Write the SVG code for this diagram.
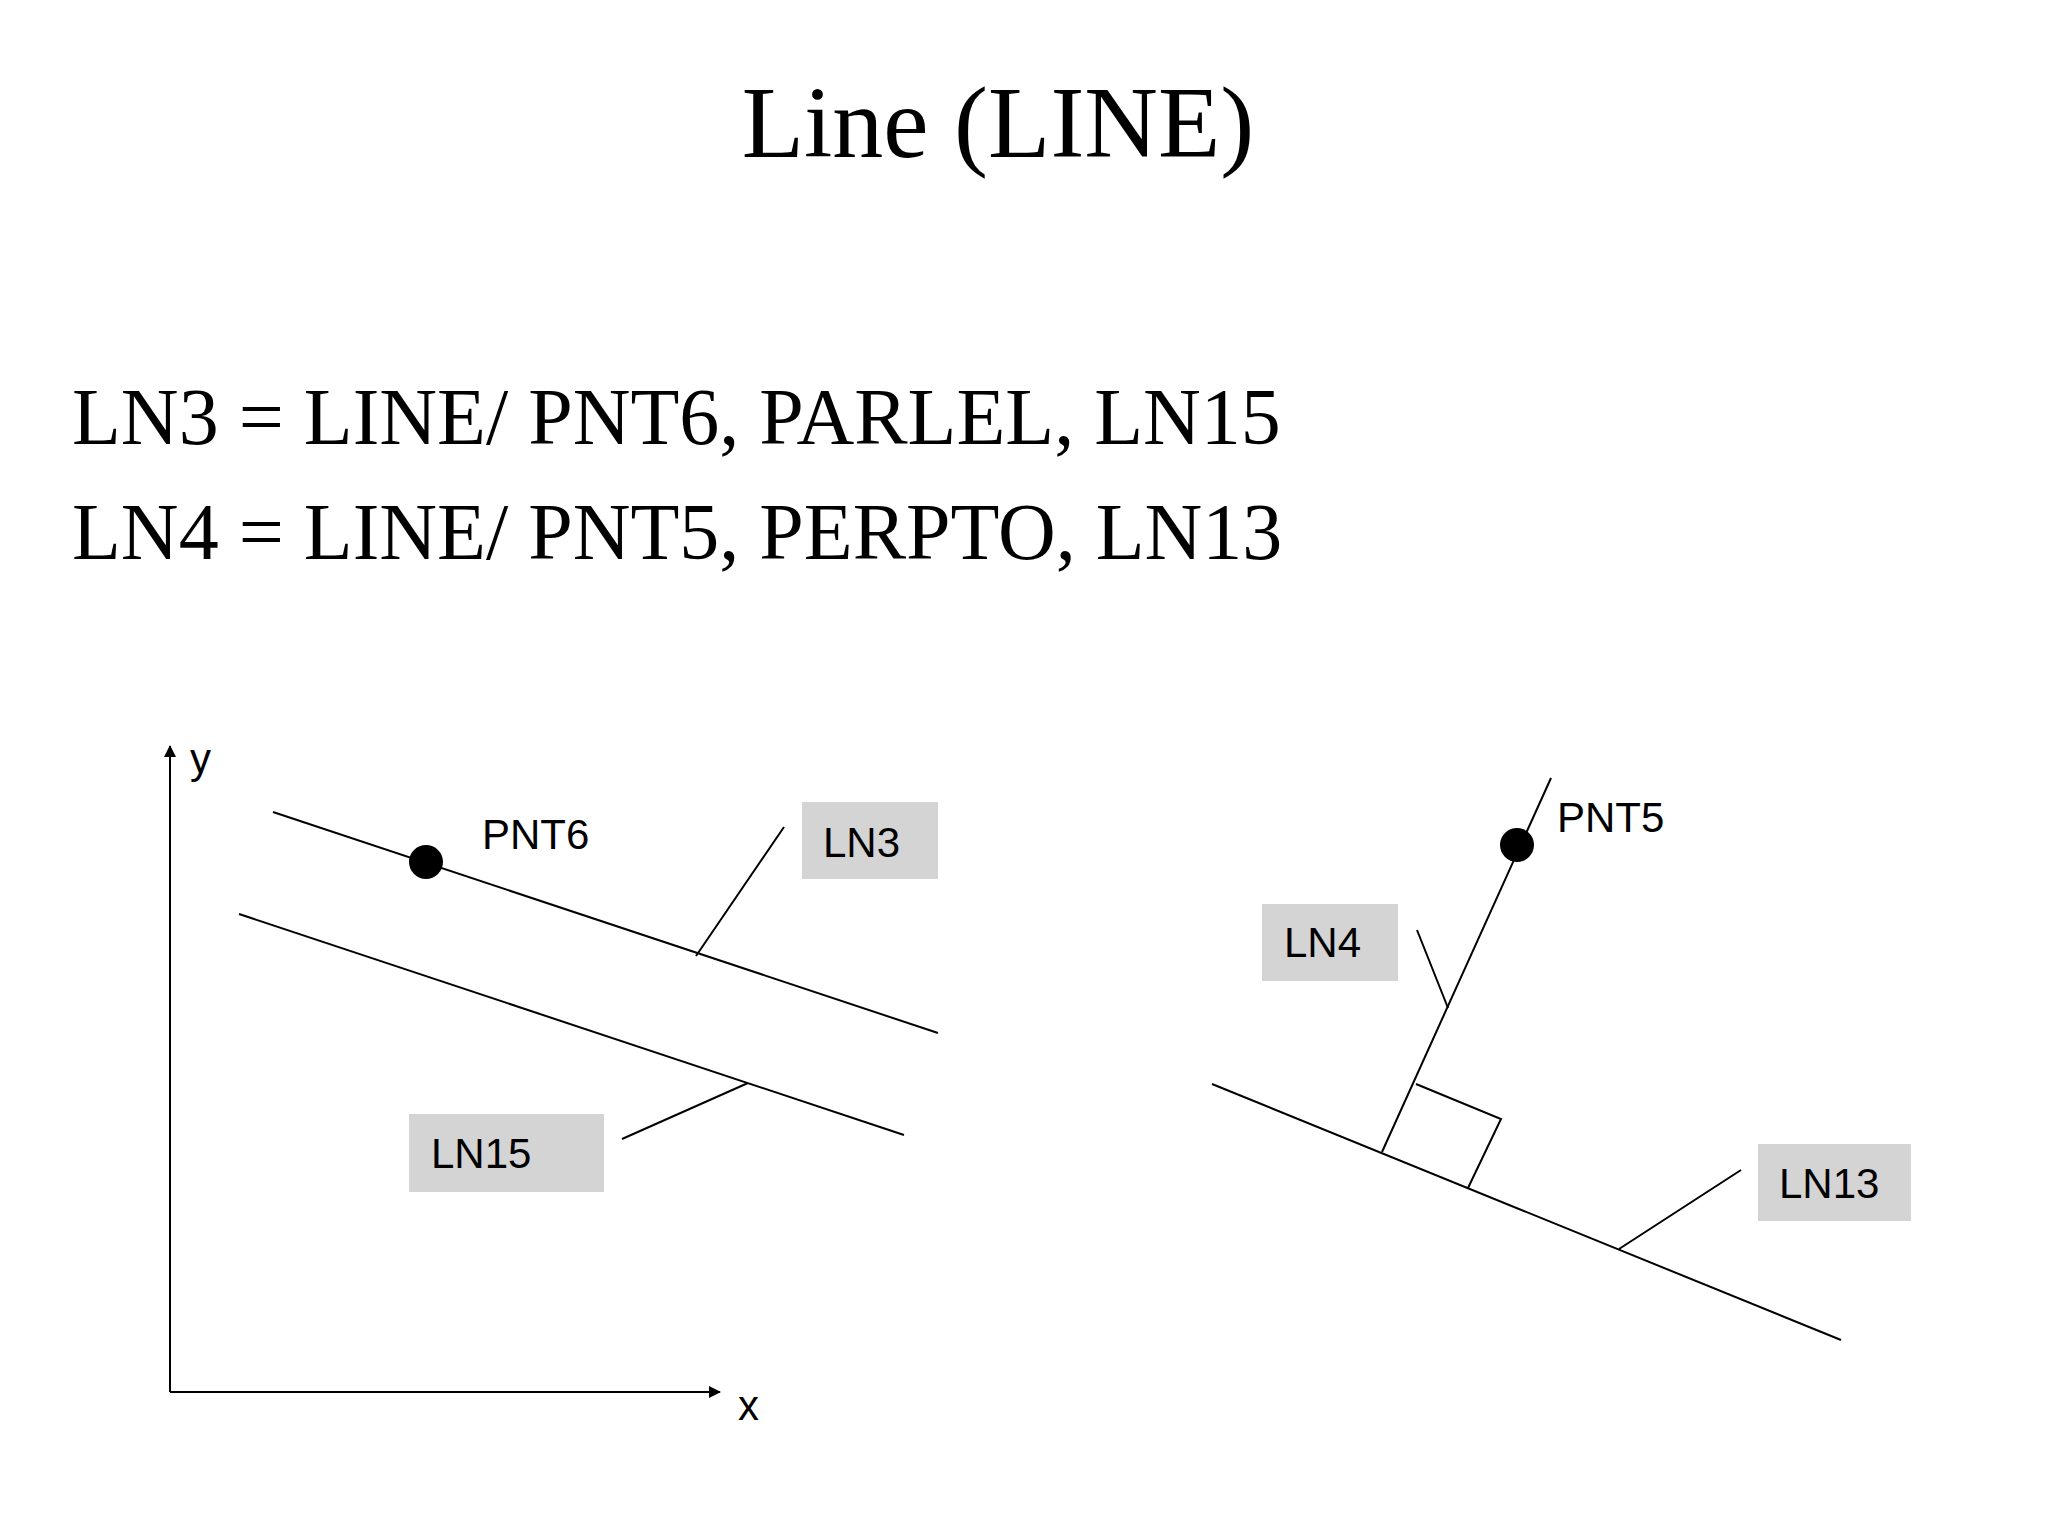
<svg xmlns="http://www.w3.org/2000/svg" width="2048" height="1536" viewBox="0 0 2048 1536">
<style>
.t{font-family:"Liberation Serif",serif;fill:#000}
.s{font-family:"Liberation Sans",Arial,sans-serif;font-size:42px;fill:#000}
.ln{stroke:#000;stroke-width:2;fill:none}
.box{fill:#d4d4d4}
</style>
<defs><marker id="ah" markerWidth="12" markerHeight="12" refX="11" refY="6" orient="auto" markerUnits="userSpaceOnUse"><path d="M0,0 L12,6 L0,12 z" fill="#000"/></marker></defs>
<rect width="2048" height="1536" fill="#fff"/>
<text class="t" x="998" y="157" font-size="102" text-anchor="middle">Line (LINE)</text>
<text class="t" x="72" y="444" font-size="80">LN3 = LINE/ PNT6, PARLEL, LN15</text>
<text class="t" x="72" y="559" font-size="80">LN4 = LINE/ PNT5, PERPTO, LN13</text>
<g id="axes">
<line class="ln" x1="170" y1="1392" x2="170" y2="746" marker-end="url(#ah)"/>
<line class="ln" x1="170" y1="1392" x2="720" y2="1392" marker-end="url(#ah)"/>
<text class="s" x="190" y="773" font-size="37">y</text>
<text class="s" x="738" y="1420" font-size="37">x</text>
</g>
<g id="connectors">
<line class="ln" x1="273" y1="812" x2="938" y2="1033"/>
<line class="ln" x1="239" y1="914" x2="904" y2="1135"/>
<line class="ln" x1="784" y1="827" x2="696" y2="956"/>
<line class="ln" x1="622" y1="1139" x2="748" y2="1083"/>
<line class="ln" x1="1212" y1="1084" x2="1841" y2="1340"/>
<line class="ln" x1="1551" y1="778" x2="1382" y2="1152"/>
<polyline class="ln" points="1416,1084 1501,1119 1468,1188"/>
<line class="ln" x1="1417" y1="930" x2="1448" y2="1008"/>
<line class="ln" x1="1741" y1="1170" x2="1619" y2="1249"/>
</g>
<g id="PNT6"><circle cx="426" cy="862" r="17"/><text class="s" x="482" y="849">PNT6</text></g>
<g id="LN3"><rect class="box" x="802" y="802" width="136" height="77"/><text class="s" x="823" y="857">LN3</text></g>
<g id="LN15"><rect class="box" x="409" y="1114" width="195" height="78"/><text class="s" x="431" y="1168">LN15</text></g>
<g id="PNT5"><circle cx="1517" cy="845" r="17"/><text class="s" x="1557" y="832">PNT5</text></g>
<g id="LN4"><rect class="box" x="1262" y="904" width="136" height="77"/><text class="s" x="1284" y="957">LN4</text></g>
<g id="LN13"><rect class="box" x="1758" y="1144" width="153" height="77"/><text class="s" x="1779" y="1198">LN13</text></g>
</svg>
